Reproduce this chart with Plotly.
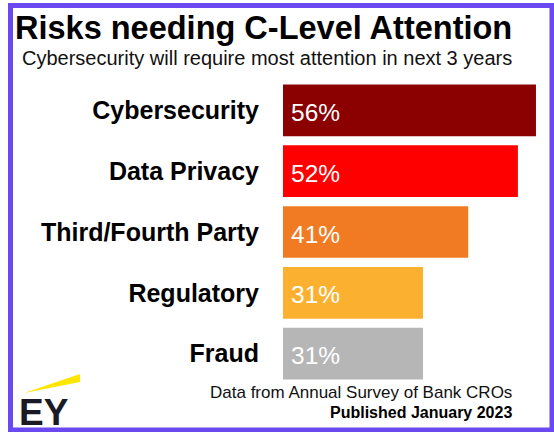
import plotly.graph_objects as go

# ---- data ----
categories = ["Cybersecurity", "Data Privacy", "Third/Fourth Party", "Regulatory", "Fraud"]
values = [56, 52, 41, 31, 31]
bar_colors = ["#8b0000", "#ff0000", "#f07b22", "#fbb12f", "#b6b6b6"]
value_labels = [f"{v}%" for v in values]

title_text = "Risks needing C-Level Attention"
subtitle_text = "Cybersecurity will require most attention in next 3 years"
source_text = "Data from Annual Survey of Bank CROs"
published_text = "Published January 2023"
logo_text = "EY"

# ---- layout geometry ----
W, H = 554, 432
ML, MR, MT, MB = 283, 9, 80, 48
PW, PH = W - ML - MR, H - MT - MB


def pxx(px):
    return (px - ML) / PW


def pxy(py):
    return (H - MB - py) / PH


FONT = "Liberation Sans, Arial, sans-serif"

fig = go.Figure(
    go.Bar(
        x=values,
        y=categories,
        orientation="h",
        marker=dict(color=bar_colors, line=dict(width=0)),
        hoverinfo="skip",
    )
)

annotations = []
for cat, lab in zip(categories, value_labels):
    annotations.append(dict(
        x=0, y=cat, xref="x", yref="y", text=lab, showarrow=False,
        xanchor="left", yanchor="middle", xshift=6, yshift=-2,
        font=dict(family=FONT, size=24.5, color="#ffffff"),
    ))

annotations += [
    dict(x=pxx(263), y=pxy(28), xref="paper", yref="paper", text=f"<b>{title_text}</b>",
         showarrow=False, xanchor="center", yanchor="middle",
         font=dict(family=FONT, size=32.5, color="#000000")),
    dict(x=pxx(267), y=pxy(58), xref="paper", yref="paper", text=subtitle_text,
         showarrow=False, xanchor="center", yanchor="middle",
         font=dict(family=FONT, size=20, color="#111111")),
    dict(x=pxx(514), y=pxy(392), xref="paper", yref="paper", text=source_text,
         showarrow=False, xanchor="right", yanchor="middle",
         font=dict(family=FONT, size=17, color="#111111")),
    dict(x=pxx(514), y=pxy(412), xref="paper", yref="paper", text=f"<b>{published_text}</b>",
         showarrow=False, xanchor="right", yanchor="middle",
         font=dict(family=FONT, size=16, color="#000000")),
    dict(x=pxx(17), y=pxy(412), xref="paper", yref="paper", text=f"<b>{logo_text}</b>",
         showarrow=False, xanchor="left", yanchor="middle",
         font=dict(family=FONT, size=37, color="#1a1a24")),
]

shapes = [
    # purple frame
    dict(type="rect", xref="paper", yref="paper",
         x0=pxx(10.5), x1=pxx(552), y0=pxy(5.5), y1=pxy(430),
         line=dict(color="#6a4af0", width=5), fillcolor="rgba(0,0,0,0)", layer="above"),
    # EY yellow beam
    dict(type="path", xref="paper", yref="paper",
         path=(f"M {pxx(24)},{pxy(393)} L {pxx(80)},{pxy(374)} "
               f"L {pxx(80)},{pxy(382)} Z"),
         fillcolor="#ffe600", line=dict(width=0)),
]

fig.update_layout(
    width=W, height=H,
    margin=dict(l=ML, r=MR, t=MT, b=MB, pad=0),
    paper_bgcolor="#ffffff", plot_bgcolor="#ffffff",
    showlegend=False,
    bargap=0.15,
    xaxis=dict(range=[0, 58], visible=False, fixedrange=True),
    yaxis=dict(autorange="reversed", showgrid=False, zeroline=False, showline=False,
               ticks="", ticklabelstandoff=23,
               tickfont=dict(family=FONT, size=25, color="#000000", weight="bold"),
               fixedrange=True),
    annotations=annotations,
    shapes=shapes,
)

fig.write_html(
    "out.html",
    config={"displayModeBar": False},
    post_script="document.body.style.margin='0';document.body.style.overflow='hidden';",
)
